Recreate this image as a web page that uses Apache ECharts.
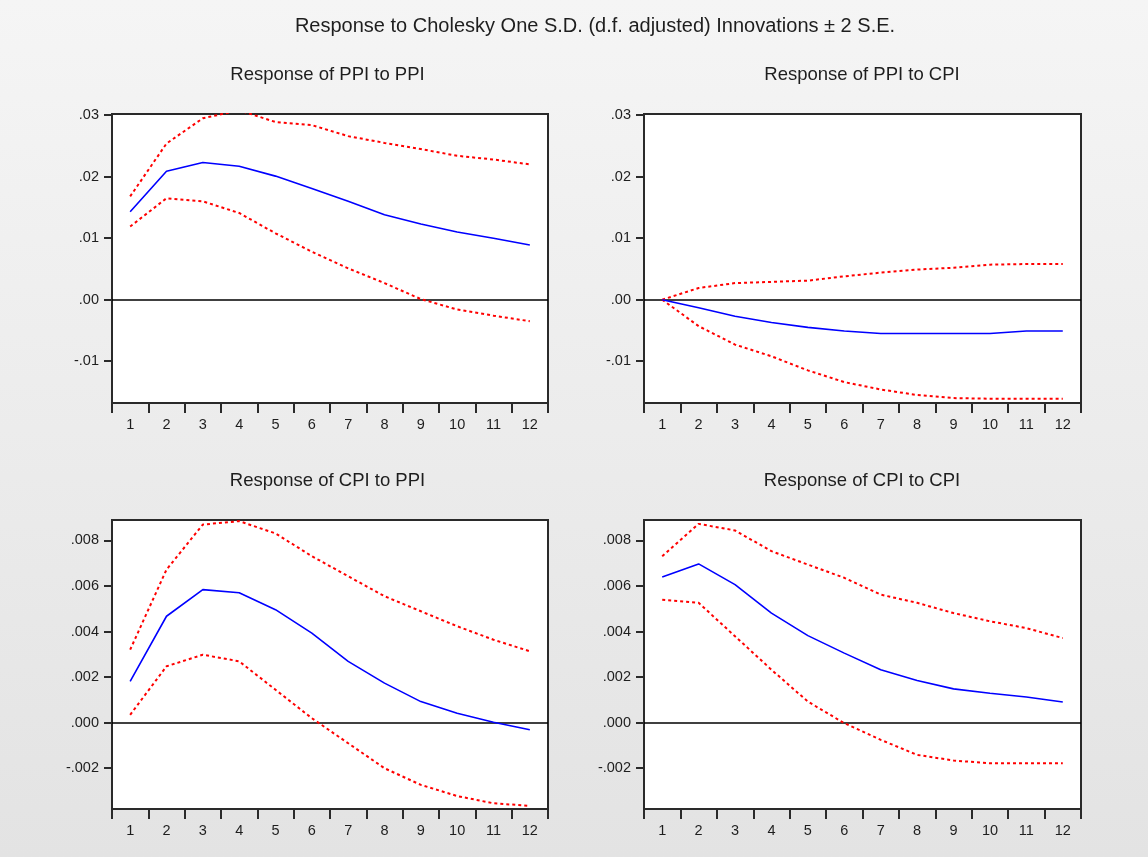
<!DOCTYPE html>
<html>
<head>
<meta charset="utf-8">
<script src="https://cdn.jsdelivr.net/npm/echarts@6/dist/echarts.min.js"></script>
<style>
html,body{margin:0;padding:0;}
#chart{width:1148px;height:857px;}
</style>
</head>
<body>
<div id="chart"></div>
<script>
const mainTitle = 'Response to Cholesky One S.D. (d.f. adjusted) Innovations \u00b1 2 S.E.';
const periods = ['1','2','3','4','5','6','7','8','9','10','11','12'];

const panelTitles = ['Response of PPI to PPI','Response of PPI to CPI','Response of CPI to PPI','Response of CPI to CPI'];

// PPI to PPI
const ppiPpiResp  = [0.0143,0.0209,0.0223,0.0217,0.0201,0.0181,0.0160,0.0138,0.0123,0.0110,0.0100,0.0089];
const ppiPpiUpper = [0.0168,0.0254,0.0295,0.0308,0.0289,0.0284,0.0266,0.0255,0.0245,0.0234,0.0228,0.0220];
const ppiPpiLower = [0.0119,0.0165,0.0160,0.0141,0.0108,0.0078,0.0051,0.0027,0.0001,-0.0016,-0.0026,-0.0035];

// PPI to CPI
const ppiCpiResp  = [0.0000,-0.0013,-0.0027,-0.0037,-0.0045,-0.0051,-0.0055,-0.0055,-0.0055,-0.0055,-0.0051,-0.0051];
const ppiCpiUpper = [0.0000,0.0019,0.0027,0.0029,0.0031,0.0038,0.0044,0.0049,0.0052,0.0057,0.0058,0.0058];
const ppiCpiLower = [0.0000,-0.0043,-0.0073,-0.0092,-0.0115,-0.0134,-0.0146,-0.0155,-0.0160,-0.0161,-0.0161,-0.0161];

// CPI to PPI
const cpiPpiResp  = [0.00181,0.00467,0.00584,0.00570,0.00496,0.00393,0.00269,0.00173,0.00092,0.00041,0.00001,-0.00032];
const cpiPpiUpper = [0.00320,0.00672,0.00870,0.00885,0.00831,0.00731,0.00643,0.00555,0.00489,0.00423,0.00364,0.00313];
const cpiPpiLower = [0.00034,0.00247,0.00298,0.00269,0.00144,0.00019,-0.00091,-0.00201,-0.00274,-0.00323,-0.00355,-0.00366];

// CPI to CPI
const cpiCpiResp  = [0.00639,0.00697,0.00606,0.00481,0.00382,0.00305,0.00232,0.00185,0.00148,0.00129,0.00112,0.00090];
const cpiCpiUpper = [0.00731,0.00873,0.00844,0.00753,0.00694,0.00636,0.00562,0.00526,0.00481,0.00445,0.00415,0.00371];
const cpiCpiLower = [0.00540,0.00526,0.00379,0.00232,0.00092,-0.00003,-0.00076,-0.00142,-0.00167,-0.00179,-0.00179,-0.00179];

const ppiTicks = [-0.01,0,0.01,0.02,0.03];
const cpiTicks = [-0.002,0,0.002,0.004,0.006,0.008];
const ppiRange = [-0.0168,0.0302];
const cpiRange = [-0.0038,0.0089];

const FONT = "'Liberation Sans',Arial,sans-serif";
const TXT = '#1e1e1e';

function fmt(decimals){
  return function(v){
    const s = Math.abs(v).toFixed(decimals).replace(/^0/, '');
    return (v < -1e-12 ? '-' : '') + s;
  };
}

const panels = [
  {resp: ppiPpiResp, up: ppiPpiUpper, lo: ppiPpiLower, ticks: ppiTicks, range: ppiRange, dec: 2},
  {resp: ppiCpiResp, up: ppiCpiUpper, lo: ppiCpiLower, ticks: ppiTicks, range: ppiRange, dec: 2},
  {resp: cpiPpiResp, up: cpiPpiUpper, lo: cpiPpiLower, ticks: cpiTicks, range: cpiRange, dec: 3},
  {resp: cpiCpiResp, up: cpiCpiUpper, lo: cpiCpiLower, ticks: cpiTicks, range: cpiRange, dec: 3}
];

const gridBoxes = [
  {left:112, top:114, width:436, height:289},
  {left:644, top:114, width:437, height:289},
  {left:112, top:520, width:436, height:289},
  {left:644, top:520, width:437, height:289}
];
const titleCenters = [322.5, 857, 322.5, 857];
const titleTops = [60, 60, 466, 466];

const grids = [], xAxes = [], yAxes = [], series = [];
const titles = [{
  text: mainTitle, left: 590, top: 11, textAlign: 'center',
  textStyle: {fontFamily: FONT, fontSize: 20, fontWeight: 'normal', color: TXT}
}];

panels.forEach((p, i) => {
  const g = gridBoxes[i];
  grids.push(Object.assign({show: true, backgroundColor: '#ffffff', borderColor: '#2a2a2a', borderWidth: 2, containLabel: false}, g));
  titles.push({
    text: panelTitles[i], left: titleCenters[i], top: titleTops[i], textAlign: 'center',
    textStyle: {fontFamily: FONT, fontSize: 18.5, fontWeight: 'normal', color: TXT}
  });
  xAxes.push({
    type: 'category', gridIndex: i, data: periods, boundaryGap: true,
    axisLine: {show: true, onZero: false, lineStyle: {color: '#2a2a2a', width: 2}},
    axisTick: {show: true, interval: 0, length: 10, lineStyle: {color: '#2a2a2a', width: 2}},
    axisLabel: {interval: 0, margin: 14, fontFamily: FONT, fontSize: 14.5, color: TXT},
    splitLine: {show: false}
  });
  yAxes.push({
    type: 'value', gridIndex: i, min: p.range[0], max: p.range[1],
    axisLine: {show: true, onZero: false, lineStyle: {color: '#2a2a2a', width: 2}},
    axisTick: {show: true, length: 8, customValues: p.ticks, lineStyle: {color: '#2a2a2a', width: 2}},
    axisLabel: {customValues: p.ticks, formatter: fmt(p.dec), margin: 13, fontFamily: FONT, fontSize: 14.5, color: TXT},
    splitLine: {show: false}
  });
  series.push({
    type: 'line', xAxisIndex: i, yAxisIndex: i, data: p.up, symbol: 'none', z: 3,
    lineStyle: {color: '#ff0000', width: 2, type: [3, 3]}
  });
  series.push({
    type: 'line', xAxisIndex: i, yAxisIndex: i, data: p.lo, symbol: 'none', z: 3,
    lineStyle: {color: '#ff0000', width: 2, type: [3, 3]}
  });
  series.push({
    type: 'line', xAxisIndex: i, yAxisIndex: i, data: p.resp, symbol: 'none', z: 4,
    lineStyle: {color: '#0000ff', width: 1.6},
    markLine: {
      silent: true, symbol: ['none', 'none'], label: {show: false}, z: 2,
      lineStyle: {color: '#000000', type: 'solid', width: 1.6},
      data: [{yAxis: 0}]
    }
  });
});

const chart = echarts.init(document.getElementById('chart'), null, {renderer: 'canvas'});
chart.setOption({
  animation: false,
  backgroundColor: {
    type: 'linear', x: 0, y: 0, x2: 0, y2: 1,
    colorStops: [{offset: 0, color: '#f5f5f5'}, {offset: 1, color: '#e3e3e3'}]
  },
  title: titles,
  grid: grids,
  xAxis: xAxes,
  yAxis: yAxes,
  series: series
});
</script>
</body>
</html>
